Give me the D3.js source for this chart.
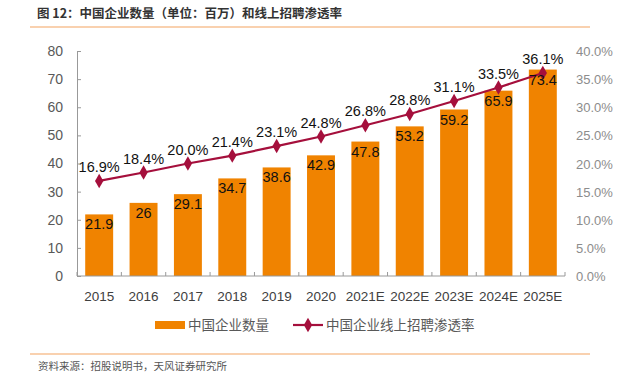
<!DOCTYPE html>
<html>
<head>
<meta charset="utf-8">
<script src="https://cdn.jsdelivr.net/npm/d3@7"></script>
<style>
  body { margin: 0; background: #fff; }
  text { font-family: "Liberation Sans", Arial, "Noto Sans CJK SC", sans-serif; }
  .cjk { font-family: "Noto Sans CJK SC", sans-serif; }
</style>
</head>
<body>
<div id="canvas"></div>
<script>
const years = ["2015", "2016", "2017", "2018", "2019", "2020", "2021E", "2022E", "2023E", "2024E", "2025E"];
const companies = [21.9, 26, 29.1, 34.7, 38.6, 42.9, 47.8, 53.2, 59.2, 65.9, 73.4];
const penetration = [16.9, 18.4, 20.0, 21.4, 23.1, 24.8, 26.8, 28.8, 31.1, 33.5, 36.1];
const leftTicks = [0, 10, 20, 30, 40, 50, 60, 70, 80];
const rightTicks = [0, 5, 10, 15, 20, 25, 30, 35, 40];

const width = 617;
const height = 382;
const margin = { top: 51, left: 77, bottom: 106, right: 52 };
const iwidth = width - margin.left - margin.right;
const iheight = height - margin.top - margin.bottom;

const barColor = "#F08300";
const lineColor = "#A50F3C";

const svg = d3.select("#canvas").append("svg")
  .attr("width", width)
  .attr("height", height);

// title and rules
svg.append("text").attr("class", "cjk")
  .attr("x", 37).attr("y", 18)
  .attr("font-size", 12.5).attr("font-weight", "bold").attr("fill", "#333")
  .text("图 12：中国企业数量（单位：百万）和线上招聘渗透率");
svg.append("line").attr("x1", 30).attr("x2", 590).attr("y1", 27).attr("y2", 27)
  .attr("stroke", "#F4A460").attr("stroke-width", 1.2);
svg.append("line").attr("x1", 30).attr("x2", 590).attr("y1", 354).attr("y2", 354)
  .attr("stroke", "#F4A460").attr("stroke-width", 1.2);
svg.append("text").attr("class", "cjk")
  .attr("x", 38).attr("y", 370)
  .attr("font-size", 10.5).attr("fill", "#555")
  .text("资料来源：招股说明书，天风证券研究所");

const g = svg.append("g")
  .attr("transform", `translate(${margin.left}, ${margin.top})`);

const x = d3.scaleBand().domain(years).range([0, iwidth]).paddingInner(0.37).paddingOuter(0.185);
const y = d3.scaleLinear().domain([0, 80]).range([iheight, 0]);
const y2 = d3.scaleLinear().domain([0, 40]).range([iheight, 0]);

// bars
g.selectAll("rect.bar").data(companies).enter().append("rect")
  .attr("class", "bar")
  .attr("x", (d, i) => x(years[i]))
  .attr("y", d => y(d))
  .attr("width", x.bandwidth())
  .attr("height", d => iheight - y(d))
  .attr("fill", barColor);

// left axis
const yAxis = g.append("g")
  .call(d3.axisLeft(y).tickValues(leftTicks).tickSize(-4).tickPadding(14));
yAxis.select(".domain").attr("stroke", "#999");
yAxis.selectAll(".tick line").attr("stroke", "#999");
yAxis.selectAll("text").attr("font-size", 14).attr("fill", "#595959");

// x axis
const xAxis = g.append("g").attr("transform", `translate(0, ${iheight})`);
xAxis.append("line").attr("x1", 0).attr("x2", iwidth).attr("y1", 0).attr("y2", 0)
  .attr("stroke", "#999");
const bounds = years.map((yr, i) => x(yr) - x.step() * x.paddingInner() / 2).concat([iwidth]);
xAxis.selectAll("line.tk").data(bounds).enter().append("line")
  .attr("class", "tk")
  .attr("x1", d => d).attr("x2", d => d).attr("y1", 0).attr("y2", -4)
  .attr("stroke", "#999");
xAxis.selectAll("text").data(years).enter().append("text")
  .attr("x", d => x(d) + x.bandwidth() / 2)
  .attr("y", 25)
  .attr("text-anchor", "middle")
  .attr("font-size", 13.5).attr("fill", "#404040")
  .text(d => d);

// right axis labels
g.append("g").selectAll("text").data(rightTicks).enter().append("text")
  .attr("x", iwidth + 11)
  .attr("y", d => y2(d) + 5)
  .attr("font-size", 13).attr("fill", "#8c8c8c")
  .text(d => d.toFixed(1) + "%");

// line
const line = d3.line()
  .x((d, i) => x(years[i]) + x.bandwidth() / 2)
  .y(d => y2(d));
g.append("path").datum(penetration)
  .attr("d", line)
  .attr("fill", "none")
  .attr("stroke", lineColor)
  .attr("stroke-width", 2.2);
g.selectAll("path.pt").data(penetration).enter().append("path")
  .attr("class", "pt")
  .attr("d", d3.symbol().type(d3.symbolDiamond).size(60))
  .attr("transform", (d, i) => `translate(${x(years[i]) + x.bandwidth() / 2}, ${y2(d)}) rotate(0)`)
  .attr("fill", lineColor);

// bar labels
g.selectAll("text.bl").data(companies).enter().append("text")
  .attr("class", "bl")
  .attr("x", (d, i) => x(years[i]) + x.bandwidth() / 2)
  .attr("y", d => y(d) + 15)
  .attr("text-anchor", "middle")
  .attr("font-size", 14.5).attr("fill", "#111")
  .text(d => d);

// line labels
g.selectAll("text.ll").data(penetration).enter().append("text")
  .attr("class", "ll")
  .attr("x", (d, i) => x(years[i]) + x.bandwidth() / 2)
  .attr("y", d => y2(d) - 9)
  .attr("text-anchor", "middle")
  .attr("font-size", 14.5).attr("fill", "#111")
  .text(d => d.toFixed(1) + "%");

// legend
const lg = svg.append("g").attr("transform", "translate(0, 325)");
lg.append("rect").attr("x", 155).attr("y", -4).attr("width", 30).attr("height", 8).attr("fill", barColor);
lg.append("text").attr("class", "cjk").attr("x", 188).attr("y", 5)
  .attr("font-size", 13.5).attr("fill", "#595959").text("中国企业数量");
lg.append("line").attr("x1", 293).attr("x2", 323).attr("y1", 0).attr("y2", 0)
  .attr("stroke", lineColor).attr("stroke-width", 2.2);
lg.append("path").attr("d", d3.symbol().type(d3.symbolDiamond).size(60))
  .attr("transform", "translate(308, 0)").attr("fill", lineColor);
lg.append("text").attr("class", "cjk").attr("x", 326).attr("y", 5)
  .attr("font-size", 13.5).attr("fill", "#595959").text("中国企业线上招聘渗透率");
</script>
</body>
</html>
